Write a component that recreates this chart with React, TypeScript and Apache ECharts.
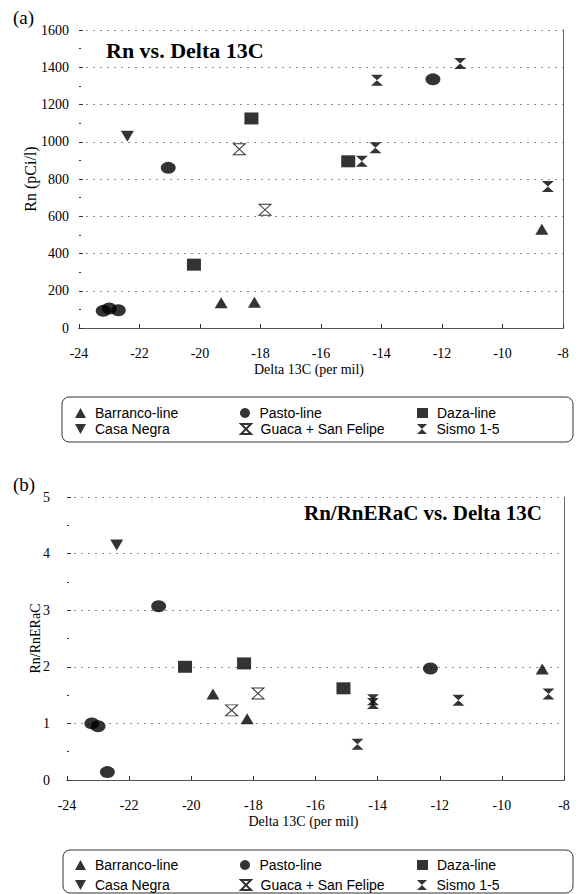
import React, { useEffect, useRef } from "react";
import * as echarts from "echarts";

// ---------- data (Delta 13C, value) ----------
const xTicks = [-24, -22, -20, -18, -16, -14, -12, -10, -8];

// Panel (a): Rn (pCi/l)
const barrancoRn: [number, number][] = [[-19.3, 135], [-18.2, 138], [-8.7, 530]];
const casaNegraRn: [number, number][] = [[-22.4, 1030]];
const pastoRn: [number, number][] = [[-23.2, 92], [-23.0, 105], [-22.7, 95], [-21.05, 860], [-12.3, 1335]];
const dazaRn: [number, number][] = [[-20.2, 340], [-18.3, 1125], [-15.1, 895]];
const guacaRn: [number, number][] = [[-18.7, 960], [-17.85, 635]];
const sismoRn: [number, number][] = [[-14.15, 1330], [-11.4, 1420], [-14.2, 968], [-8.5, 760], [-14.65, 895]];

// Panel (b): Rn/RnERaC
const barrancoRatio: [number, number][] = [[-19.3, 1.52], [-18.2, 1.08], [-8.7, 1.96]];
const casaNegraRatio: [number, number][] = [[-22.4, 4.15]];
const pastoRatio: [number, number][] = [[-23.2, 1.0], [-23.0, 0.95], [-22.7, 0.14], [-21.05, 3.07], [-12.3, 1.97]];
const dazaRatio: [number, number][] = [[-20.2, 2.0], [-18.3, 2.06], [-15.1, 1.62]];
const guacaRatio: [number, number][] = [[-18.7, 1.23], [-17.85, 1.53]];
const sismoRatio: [number, number][] = [[-14.15, 1.42], [-11.4, 1.41], [-14.15, 1.35], [-8.5, 1.52], [-14.65, 0.63]];

const legendRows = [
  ["Barranco-line", "Pasto-line", "Daza-line"],
  ["Casa Negra", "Guaca + San Felipe", "Sismo 1-5"],
];

const SERIF = "Liberation Serif";
const SANS = "Liberation Sans";

const HOURGLASS = "path://M0,0L10,0L0,10L10,10Z";
const DOWN_TRI = "path://M0,0L10,0L5,9Z";
const UP_TRI = "path://M5,0L10,9L0,9Z";

const styles: Record<string, any> = {
  "Barranco-line": { symbol: UP_TRI, symbolSize: [13, 11], itemStyle: { color: "#000" } },
  "Casa Negra": { symbol: DOWN_TRI, symbolSize: [13, 11], itemStyle: { color: "#000" } },
  "Pasto-line": { symbol: "circle", symbolSize: [15, 12], itemStyle: { color: "#000" } },
  "Daza-line": { symbol: "rect", symbolSize: [14, 12], itemStyle: { color: "#000" } },
  "Guaca + San Felipe": {
    symbol: HOURGLASS,
    symbolSize: [12, 11],
    itemStyle: { color: "#fff", borderColor: "#000", borderWidth: 1 },
  },
  "Sismo 1-5": { symbol: HOURGLASS, symbolSize: [12, 11], itemStyle: { color: "#000" } },
};

export default function App() {
  const ref = useRef<HTMLDivElement>(null);

  useEffect(() => {
    if (!ref.current) return;
    const chart = echarts.init(ref.current, undefined, { renderer: "svg" });

    const panels = [
      {
        grid: { left: 79, right: 21, top: 30, height: 298 },
        yMin: 0, yMax: 1600, yInt: 200, yName: "Rn (pCi/l)", yNameGap: 41, yNameSize: 16, yLabelMargin: 10,
        data: {
          "Barranco-line": barrancoRn, "Casa Negra": casaNegraRn, "Pasto-line": pastoRn,
          "Guaca + San Felipe": guacaRn, "Daza-line": dazaRn, "Sismo 1-5": sismoRn,
        } as Record<string, [number, number][]>,
        rowsY: [413, 429],
      },
      {
        grid: { left: 67, right: 20, top: 497, height: 283 },
        yMin: 0, yMax: 5, yInt: 1, yName: "Rn/RnERaC", yNameGap: 25, yNameSize: 14, yLabelMargin: 17,
        data: {
          "Barranco-line": barrancoRatio, "Casa Negra": casaNegraRatio, "Pasto-line": pastoRatio,
          "Guaca + San Felipe": guacaRatio, "Daza-line": dazaRatio, "Sismo 1-5": sismoRatio,
        } as Record<string, [number, number][]>,
        rowsY: [865, 885],
      },
    ];

    const labelStyle = { color: "#000", fontFamily: SERIF, fontSize: 14 };

    const xAxis: any[] = [];
    const yAxis: any[] = [];
    const series: any[] = [];
    const legend: any[] = [];
    const colLeft = [75, 240, 417];

    panels.forEach((p, i) => {
      xAxis.push({
        type: "value", gridIndex: i, min: xTicks[0], max: xTicks[xTicks.length - 1], interval: 2,
        axisLine: { show: true, lineStyle: { color: "#333", width: 1 } },
        axisTick: { show: true, inside: true, length: 4, lineStyle: { color: "#333" } },
        axisLabel: { ...labelStyle, margin: 18, formatter: (v: number) => String(v) },
        splitLine: { show: false },
        name: "Delta 13C (per mil)", nameLocation: "middle", nameGap: 34, nameMoveOverlap: false,
        nameTextStyle: { color: "#000", fontFamily: SERIF, fontSize: 14, padding: [0, 24, 0, 0] },
      });
      xAxis.push({
        type: "value", gridIndex: i, position: "top", min: xTicks[0], max: xTicks[xTicks.length - 1], interval: 2,
        axisLine: { show: true, lineStyle: { color: "#555", width: 1 } },
        axisTick: { show: false }, axisLabel: { show: false }, splitLine: { show: false },
      });
      yAxis.push({
        type: "value", gridIndex: i, min: p.yMin, max: p.yMax, interval: p.yInt,
        axisLine: { show: false },
        axisTick: { show: true, inside: true, length: 4, lineStyle: { color: "#333" } },
        minorTick: { show: true, splitNumber: 2, length: 2, lineStyle: { color: "#333" } },
        axisLabel: { ...labelStyle, margin: p.yLabelMargin, formatter: (v: number) => String(v) },
        splitLine: { show: true, lineStyle: { type: [2, 5], color: "#888", width: 1 } },
        name: p.yName, nameLocation: "middle", nameGap: p.yNameGap, nameRotate: 90, nameMoveOverlap: false,
        nameTextStyle: { color: "#000", fontFamily: SERIF, fontSize: p.yNameSize },
      });
      yAxis.push({
        type: "value", gridIndex: i, position: "right", min: p.yMin, max: p.yMax, interval: p.yInt,
        axisLine: { show: true, lineStyle: { color: "#666", width: 1 } },
        axisTick: { show: false }, axisLabel: { show: false }, splitLine: { show: false },
      });
      ["Barranco-line", "Casa Negra", "Pasto-line", "Guaca + San Felipe", "Daza-line", "Sismo 1-5"].forEach((name) => {
        series.push({
          type: "scatter", name, xAxisIndex: i * 2, yAxisIndex: i * 2,
          data: p.data[name], ...styles[name],
        });
      });
      legendRows.forEach((row, r) => {
        row.forEach((name, c) => {
          legend.push({
            data: [name], left: colLeft[c], top: p.rowsY[r] - 7, padding: 0,
            itemWidth: 11, itemHeight: 10, selectedMode: false,
            textStyle: { color: "#000", fontFamily: SANS, fontSize: 14, lineHeight: 14, padding: [0, 0, 0, 4] },
          });
        });
      });
    });

    chart.setOption({
      animation: false,
      backgroundColor: "#fff",
      textStyle: { fontFamily: SERIF, color: "#000" },
      title: [
        { text: "(a)", left: 13, top: 8, padding: 0, textStyle: { fontFamily: SERIF, fontSize: 19, fontWeight: "normal", color: "#000" } },
        { text: "Rn vs. Delta 13C", left: 106, top: 39, padding: 0, textStyle: { fontFamily: SERIF, fontSize: 22, fontWeight: "bold", color: "#000" } },
        { text: "(b)", left: 13, top: 475, padding: 0, textStyle: { fontFamily: SERIF, fontSize: 19, fontWeight: "normal", color: "#000" } },
        { text: "Rn/RnERaC vs. Delta 13C", right: 42, top: 502, padding: 0, textStyle: { fontFamily: SERIF, fontSize: 21, fontWeight: "bold", color: "#000" } },
      ],
      grid: panels.map((p) => p.grid),
      xAxis,
      yAxis,
      series,
      legend,
      graphic: [
        { type: "rect", shape: { x: 62, y: 397, width: 511, height: 45, r: 7 }, style: { fill: "none", stroke: "#333", lineWidth: 1 }, silent: true },
        { type: "rect", shape: { x: 63, y: 850, width: 510, height: 43, r: 7 }, style: { fill: "none", stroke: "#333", lineWidth: 1 }, silent: true },
      ],
    });

    return () => chart.dispose();
  }, []);

  return <div ref={ref} style={{ position: "absolute", left: 0, top: 0, width: 584, height: 894 }} />;
}
